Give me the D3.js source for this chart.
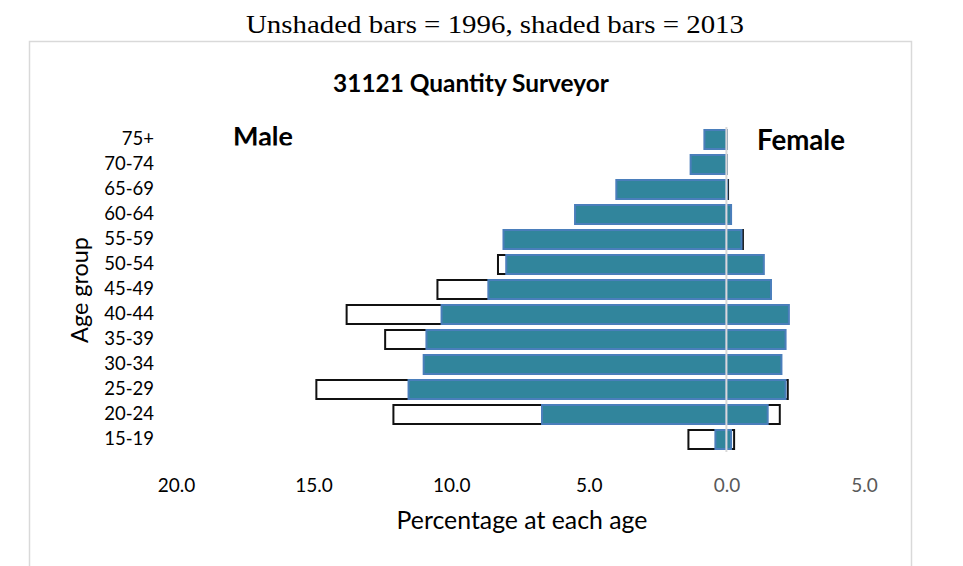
<!DOCTYPE html>
<html>
<head>
<meta charset="utf-8">
<script src="https://cdn.jsdelivr.net/npm/d3@7"></script>
<style>
  html, body { margin: 0; padding: 0; background: #fff; }
  svg { display: block; }
</style>
</head>
<body>
<svg id="chart" width="963" height="566"></svg>
<script>
// ---- data ----
const ageGroups = ["75+","70-74","65-69","60-64","55-59","50-54","45-49","40-44","35-39","30-34","25-29","20-24","15-19"];
const male1996   = [0.5, 0.9, 3.2, 5.0, 4.9, 8.3, 10.5, 13.8, 12.4, 10.8, 14.9, 12.1, 1.38];
const female1996 = [0.0, 0.0, 0.06, 0.1, 0.6, 1.2, 1.4, 2.0, 1.9, 1.8, 2.23, 1.94, 0.28];
const male2013   = [0.8, 1.3, 4.0, 5.5, 8.1, 8.0, 8.65, 10.35, 10.9, 11.0, 11.55, 6.7, 0.4];
const female2013 = [0.0, 0.0, 0.03, 0.17, 0.55, 1.36, 1.62, 2.27, 2.15, 2.0, 2.15, 1.5, 0.17];
const xTicks = [-20, -15, -10, -5, 0, 5];
const pageTitle = "Unshaded bars = 1996, shaded bars = 2013";
const chartTitle = "31121 Quantity Surveyor";

const svg = d3.select("#chart");
const sans = "Lato, 'Noto Sans', sans-serif";

function fitWidth(sel, target) {
  const len = sel.node().getComputedTextLength();
  const fs = parseFloat(sel.attr("font-size"));
  if (len > 0) sel.attr("font-size", (fs * target / len).toFixed(2));
  return sel;
}

// page title
svg.append("text")
  .attr("x", 495).attr("y", 33)
  .attr("text-anchor", "middle")
  .attr("font-family", "'Liberation Serif', 'DejaVu Serif', serif")
  .attr("font-size", 25)
  .attr("textLength", 498).attr("lengthAdjust", "spacingAndGlyphs")
  .attr("fill", "#000")
  .text(pageTitle);

// chart box
svg.append("rect")
  .attr("x", 29.5).attr("y", 41.5)
  .attr("width", 882).attr("height", 560)
  .attr("fill", "#fff").attr("stroke", "#d9d9d9").attr("stroke-width", 1.5);

// chart title
fitWidth(svg.append("text")
  .attr("x", 471).attr("y", 92)
  .attr("text-anchor", "middle")
  .attr("font-family", sans).attr("font-weight", "bold")
  .attr("font-size", 20)
  .attr("fill", "#000")
  .text(chartTitle), 276);

// scales
const x = d3.scaleLinear().domain([-20, 5]).range([176, 864]);
const y = d3.scaleBand().domain(ageGroups).range([127, 452]).paddingInner(0.24).paddingOuter(0.12);

const rows = ageGroups.map((a, i) => ({
  age: a, m96: male1996[i], f96: female1996[i], m13: male2013[i], f13: female2013[i]
}));

// unshaded 1996 bars
const g96 = svg.append("g");
g96.selectAll("rect.m").data(rows.filter(d => d.m96 > 0)).join("rect")
  .attr("x", d => x(-d.m96)).attr("y", d => y(d.age))
  .attr("width", d => x(0) - x(-d.m96)).attr("height", y.bandwidth())
  .attr("fill", "#fff").attr("stroke", "#111").attr("stroke-width", 2);
g96.selectAll("rect.f").data(rows.filter(d => d.f96 > 0)).join("rect")
  .attr("x", x(0)).attr("y", d => y(d.age))
  .attr("width", d => x(d.f96) - x(0)).attr("height", y.bandwidth())
  .attr("fill", "#fff").attr("stroke", "#111").attr("stroke-width", 2);

// shaded 2013 bars
const g13 = svg.append("g");
g13.selectAll("rect.m").data(rows.filter(d => d.m13 > 0)).join("rect")
  .attr("x", d => x(-d.m13)).attr("y", d => y(d.age))
  .attr("width", d => x(0) - x(-d.m13)).attr("height", y.bandwidth())
  .attr("fill", "#31859c").attr("stroke", "#4a7ebb").attr("stroke-width", 2);
g13.selectAll("rect.f").data(rows.filter(d => d.f13 > 0)).join("rect")
  .attr("x", x(0)).attr("y", d => y(d.age))
  .attr("width", d => x(d.f13) - x(0)).attr("height", y.bandwidth())
  .attr("fill", "#31859c").attr("stroke", "#4a7ebb").attr("stroke-width", 2);

// zero line
svg.append("line")
  .attr("x1", x(0)).attr("x2", x(0))
  .attr("y1", 127).attr("y2", 452)
  .attr("stroke", "#d9d9d9").attr("stroke-width", 2);

// y axis (category labels)
const yAxis = d3.axisLeft(y).tickSize(0).tickPadding(0);
const yg = svg.append("g").attr("transform", "translate(154,0)").call(yAxis);
yg.select(".domain").remove();
yg.selectAll("text")
  .attr("font-family", sans).attr("font-size", 18.5).attr("fill", "#000");

// x axis (tick labels)
const xAxis = d3.axisBottom(x).tickValues(xTicks).tickSize(0).tickPadding(0)
  .tickFormat(d => Math.abs(d).toFixed(1));
const xg = svg.append("g").attr("transform", "translate(0,478)").call(xAxis);
xg.select(".domain").remove();
xg.selectAll("text")
  .attr("font-family", sans).attr("font-size", 19)
  .attr("fill", d => d >= 0 ? "#595959" : "#000");

// axis titles
fitWidth(svg.append("text")
  .attr("x", 522).attr("y", 529)
  .attr("text-anchor", "middle")
  .attr("font-family", sans).attr("font-size", 20)
  .attr("fill", "#000")
  .text("Percentage at each age"), 251);

fitWidth(svg.append("text")
  .attr("transform", "translate(88,290) rotate(-90)")
  .attr("text-anchor", "middle")
  .attr("font-family", sans).attr("font-size", 20)
  .attr("fill", "#000")
  .text("Age group"), 106);

// gender labels
svg.append("clipPath").attr("id", "maleClip")
  .append("rect").attr("x", 200).attr("y", 100).attr("width", 150).attr("height", 45.5);
fitWidth(svg.append("text")
  .attr("x", 233).attr("y", 146)
  .attr("clip-path", "url(#maleClip)")
  .attr("font-family", sans).attr("font-weight", "bold").attr("font-size", 22)
  .attr("fill", "#000")
  .text("Male"), 60);

fitWidth(svg.append("text")
  .attr("x", 757).attr("y", 150)
  .attr("font-family", sans).attr("font-weight", "bold").attr("font-size", 22)
  .attr("fill", "#000")
  .text("Female"), 88);
</script>
</body>
</html>
